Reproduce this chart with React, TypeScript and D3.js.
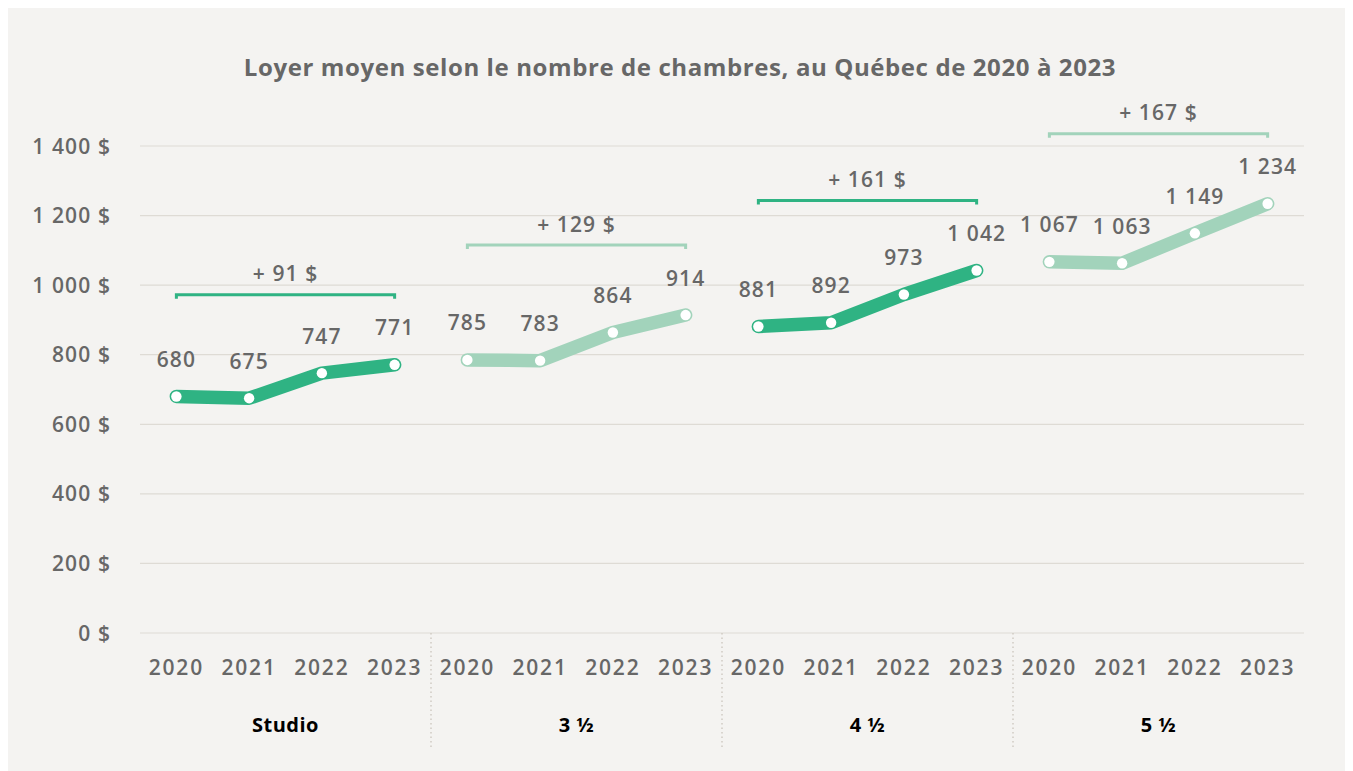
import React from "react";
import * as d3 from "d3";

const groups = ["Studio", "3 ½", "4 ½", "5 ½"];
const years = ["2020", "2021", "2022", "2023"];
const studio = [680, 675, 747, 771];
const threeHalf = [785, 783, 864, 914];
const fourHalf = [881, 892, 973, 1042];
const fiveHalf = [1067, 1063, 1149, 1234];
const seriesValues = [studio, threeHalf, fourHalf, fiveHalf];
const increases = ["+ 91 $", "+ 129 $", "+ 161 $", "+ 167 $"];
const yTicks = [0, 200, 400, 600, 800, 1000, 1200, 1400];
const title = "Loyer moyen selon le nombre de chambres, au Québec de 2020 à 2023";

const DARK = "#2fb383";
const LIGHT = "#a2d3bb";
const TEXT = "#676767";
const GRID = "#dedbd5";
const BG = "#f4f3f1";
const FONT = "'Open Sans', Lato, sans-serif";

const W = 1345;
const H = 763;
// svg origin at page (8,8)
const left = 132;
const right = 1296;
const top = 138;
const bottom = 625;

const fmt = (v: number) => {
  const s = String(v);
  return s.length > 3 ? s.slice(0, s.length - 3) + " " + s.slice(-3) : s;
};

export default function App() {
  const keys: string[] = [];
  groups.forEach((g, gi) => years.forEach((y) => keys.push(`${gi}-${y}`)));
  const x = d3.scaleBand<string>().domain(keys).range([left, right]).padding(0);
  const y = d3.scaleLinear().domain([0, 1400]).range([bottom, top]);
  const cx = (gi: number, yi: number) => (x(`${gi}-${years[yi]}`) as number) + x.bandwidth() / 2;

  const num = { fontSize: 21, fontWeight: 600, fill: TEXT, letterSpacing: 1.1 } as const;

  return (
    <svg width={W} height={H} style={{ display: "block" }} fontFamily={FONT}>
      <rect x={0} y={0} width={W} height={H} fill={BG} />
      <text x={672} y={68} textAnchor="middle" fontSize={24} fontWeight={700} fill={TEXT} letterSpacing={0.6}>
        {title}
      </text>
      {yTicks.map((t) => (
        <g key={t}>
          <line x1={left} x2={right} y1={y(t)} y2={y(t)} stroke={GRID} strokeWidth={1.2} />
          <text x={103} y={y(t) + 7.5} textAnchor="end" {...num}>
            {fmt(t)} $
          </text>
        </g>
      ))}
      {[1, 2, 3].map((i) => {
        const sx = left + x.bandwidth() * 4 * i;
        return (
          <line key={i} x1={sx} x2={sx} y1={bottom} y2={740} stroke="#cfcbc3" strokeWidth={1.5} strokeDasharray="1.5 3" />
        );
      })}
      {groups.map((g, gi) => {
        const vals = seriesValues[gi];
        const color = gi % 2 === 0 ? DARK : LIGHT;
        const pts = vals.map((v, yi) => [cx(gi, yi), y(v)] as [number, number]);
        const path = d3.line()(pts) as string;
        const maxY = y(d3.max(vals) as number);
        const by = maxY - 70;
        const x0 = cx(gi, 0);
        const x1 = cx(gi, 3);
        const gx = left + x.bandwidth() * (4 * gi + 2);
        return (
          <g key={g}>
            <path d={path} fill="none" stroke={color} strokeWidth={13.5} strokeLinecap="round" strokeLinejoin="round" />
            {pts.map(([px, py], i) => (
              <g key={i}>
                <circle cx={px} cy={py} r={5.2} fill="#fff" />
                <text x={px} y={py - 29.5} textAnchor="middle" {...num}>
                  {fmt(vals[i])}
                </text>
              </g>
            ))}
            <path d={`M${x0},${by + 4}V${by}H${x1}V${by + 4}`} fill="none" stroke={color} strokeWidth={3} />
            <text x={(x0 + x1) / 2} y={by - 13.5} textAnchor="middle" {...num}>
              {increases[gi]}
            </text>
            {years.map((yr, yi) => (
              <text key={yr} x={cx(gi, yi)} y={666.5} textAnchor="middle" {...num} letterSpacing={1.8}>
                {yr}
              </text>
            ))}
            <text x={gx} y={723.5} textAnchor="middle" fontSize={20} fontWeight={700} fill="#000" letterSpacing={0.5}>
              {g}
            </text>
          </g>
        );
      })}
    </svg>
  );
}
